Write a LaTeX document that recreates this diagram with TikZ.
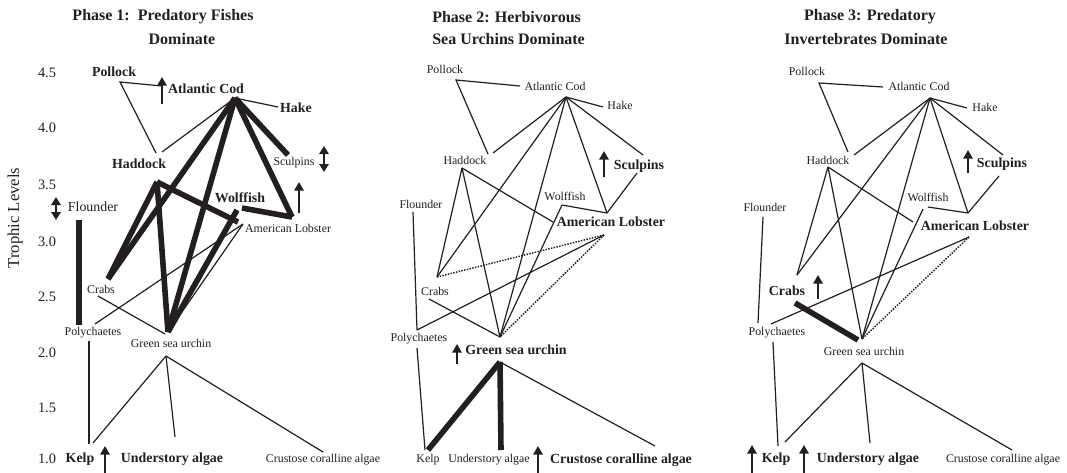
\documentclass[tikz,border=0pt]{standalone}
\usepackage{fontspec}
\setmainfont{Liberation Serif}
\usetikzlibrary{arrows.meta}
\definecolor{ink}{HTML}{231F20}
\tikzset{
  lab/.style={font=\fontsize{8.9}{10}\selectfont, inner sep=0pt, text=ink},
  blab/.style={font=\fontsize{10.4}{12}\selectfont\bfseries, inner sep=0pt, text=ink},
  biglab/.style={font=\fontsize{10.4}{12}\selectfont, inner sep=0pt, text=ink},
  ttl/.style={font=\fontsize{12}{14}\selectfont\bfseries, inner sep=0pt, text=ink},
  axn/.style={font=\fontsize{10.8}{12}\selectfont, inner sep=0pt, text=ink},
  fw/.style={draw=ink, line width=0.9pt},
  tk/.style={draw=ink, line width=4.2pt},
  dt/.style={draw=ink, line width=1.1pt, densely dotted},
  uar/.style={draw=ink, line width=1.9pt, -{Triangle[length=6.5pt,width=7pt]}},
  dar/.style={draw=ink, line width=1.9pt, {Triangle[length=6pt,width=7pt]}-{Triangle[length=6pt,width=7pt]}},
}
\begin{document}
\begin{tikzpicture}[x=0.75pt,y=-0.75pt]
\useasboundingbox (0,0) rectangle (1067,472);
\clip (0,0) rectangle (1067,472);
\fill[white] (0,0) rectangle (1067,472);

% ---------------- axis ----------------
\node[axn] (a45) at (47,73) {4.5};
\node[axn] (a40) at (47,128) {4.0};
\node[axn] (a35) at (47,185) {3.5};
\node[axn] (a30) at (47,242) {3.0};
\node[axn] (a25) at (47,297) {2.5};
\node[axn] (a20) at (47,353) {2.0};
\node[axn] (a15) at (47,408) {1.5};
\node[axn] (a10) at (47,459) {1.0};
\node[font=\fontsize{12.5}{14}\selectfont, text=ink, inner sep=0pt, rotate=90] (tl) at (15,218) {Trophic Levels};

% ================= PANEL 1 =================
\node[ttl] (t1a) at (163,17) {Phase 1:\ \ Predatory Fishes};
\node[ttl] (t1b) at (182,39) {Dominate};

\node[blab] (p1pol) at (114,72) {Pollock};
\node[blab] (p1cod) at (206,89) {Atlantic Cod};
\node[blab] (p1hake) at (296,108) {Hake};
\node[blab] (p1had) at (139,164) {Haddock};
\node[lab] (p1scu) at (294,163) {Sculpins};
\node[blab] (p1wol) at (240,198) {Wolffish};
\node[lab] (p1lob) at (288,228) {American Lobster};
\node[biglab] (p1flo) at (93,207) {Flounder};
\node[lab] (p1crab) at (101,289) {Crabs};
\node[lab] (p1poly) at (93,333) {Polychaetes};
\node[lab] (p1urch) at (171,343) {Green sea urchin};
\node[blab] (p1kelp) at (80,459) {Kelp};
\node[blab] (p1und) at (172,459) {Understory algae};
\node[lab] (p1cru) at (323,460) {Crustose coralline algae};

\coordinate (c1Pol) at (120,82);
\coordinate (c1CodL) at (162,86);
\coordinate (c1HadTL) at (156,153);
\coordinate (c1HadTR) at (162,152);
\coordinate (c1Apex) at (235,98);
\coordinate (c1HakeL) at (278,107);
\coordinate (c1ScT) at (288,155);
\coordinate (c1LobV) at (292,217);
\coordinate (c1Crab) at (108,279);
\coordinate (c1UrT) at (168,332);
\coordinate (c1HadV) at (157,182);
\coordinate (c1LobL) at (238,222);
\coordinate (c1Wolf) at (237,210);
\coordinate (c1WolfR) at (242,208);
\coordinate (c1LobLow) at (243,224);
\coordinate (c1Poly) at (95,324);
\coordinate (c1CrabB) at (98,296);
\coordinate (c1UrT2) at (165,334);
\coordinate (c1PolyB) at (89,341);
\coordinate (c1KelpT) at (89,444);
\coordinate (c1UrB) at (166,356);
\coordinate (c1KelpT2) at (93,443);
\coordinate (c1UndT) at (175,437);
\coordinate (c1CruT) at (323,452);
\coordinate (c1FlT) at (79,220);
\coordinate (c1FlB) at (79,325);

\draw[fw] (c1HadTL) -- (c1Pol) -- (c1CodL);
\draw[fw] (c1Apex) -- (c1HakeL);
\draw[fw] (c1Apex) -- (c1HadTR);
\draw[fw] (c1LobLow) -- (c1Poly);
\draw[fw] (c1LobLow) -- (c1UrT);
\draw[fw] (c1CrabB) -- (c1UrT2);
\draw[fw] (c1PolyB) -- (c1KelpT);
\draw[fw] (c1UrB) -- (c1KelpT2);
\draw[fw] (c1UrB) -- (c1UndT);
\draw[fw] (c1UrB) -- (c1CruT);
\draw[tk] (c1Apex) -- (c1ScT);
\draw[tk] (c1Apex) -- (c1LobV);
\draw[tk] (c1Apex) -- (c1Crab);
\draw[tk] (c1Apex) -- (c1UrT);
\draw[tk] (c1HadV) -- (c1Crab);
\draw[tk] (c1HadV) -- (c1UrT);
\draw[tk] (c1HadV) -- (c1LobL);
\draw[tk] (c1Wolf) -- (c1UrT);
\draw[tk] (c1WolfR) -- (c1LobV);
\draw[tk] (c1FlT) -- (c1FlB);

\coordinate (u1a) at (162,104); \coordinate (u1b) at (162,77);
\draw[uar] (u1a) -- (u1b);
\coordinate (d1a) at (56,197); \coordinate (d1b) at (56,220);
\draw[dar] (d1a) -- (d1b);
\coordinate (d2a) at (324,146); \coordinate (d2b) at (324,172);
\draw[dar] (d2a) -- (d2b);
\coordinate (u2a) at (299,213); \coordinate (u2b) at (299,182);
\draw[uar] (u2a) -- (u2b);
\coordinate (u3a) at (105,480); \coordinate (u3b) at (105,446);
\draw[uar] (u3a) -- (u3b);

% ================= PANEL 2 =================
\node[ttl, anchor=west] (t2a) at (432,17) {Phase 2: Herbivorous};
\node[ttl, anchor=west] (t2b) at (432,39) {Sea Urchins Dominate};

\node[lab] (p2pol) at (445,69) {Pollock};
\node[lab] (p2cod) at (555,86) {Atlantic Cod};
\node[lab] (p2hake) at (620,105) {Hake};
\node[blab] (p2scu) at (639,166) {Sculpins};
\node[lab] (p2had) at (465,160) {Haddock};
\node[lab] (p2wol) at (565,196) {Wolffish};
\node[blab] (p2lob) at (611,222) {American Lobster};
\node[lab] (p2flo) at (421,204) {Flounder};
\node[lab] (p2crab) at (435,291) {Crabs};
\node[lab] (p2poly) at (419,339) {Polychaetes};
\node[blab] (p2urch) at (516,350) {Green sea urchin};
\node[lab] (p2kelp) at (428,460) {Kelp};
\node[lab] (p2und) at (489,460) {Understory algae};
\node[blab] (p2cru) at (621,460) {Crustose coralline algae};

\coordinate (c2Pol) at (456,80);
\coordinate (c2CodL) at (520,86);
\coordinate (c2HadTL) at (488,154);
\coordinate (c2HadTR) at (493,153);
\coordinate (c2Apex) at (566,97);
\coordinate (c2HakeL) at (603,107);
\coordinate (c2ScT) at (643,155);
\coordinate (c2ScB) at (637,173);
\coordinate (c2LobV) at (607,213);
\coordinate (c2HadV) at (462,168);
\coordinate (c2Crab) at (437,277);
\coordinate (c2UrT) at (500,337);
\coordinate (c2LobL) at (553,222);
\coordinate (c2Wolf) at (562,205);
\coordinate (c2LobLow) at (604,235);
\coordinate (c2Poly) at (417,330);
\coordinate (c2FlT) at (413,212);
\coordinate (c2CrabB) at (429,299);
\coordinate (c2PolyB) at (417,348);
\coordinate (c2KelpT) at (425,450);
\coordinate (c2UrB) at (500,362);
\coordinate (c2KelpT2) at (428,450);
\coordinate (c2UndT) at (501,450);
\coordinate (c2CruT) at (655,446);

\draw[fw] (c2HadTL) -- (c2Pol) -- (c2CodL);
\draw[fw] (c2Apex) -- (c2HakeL);
\draw[fw] (c2Apex) -- (c2HadTR);
\draw[fw] (c2Apex) -- (c2ScT);
\draw[fw] (c2Apex) -- (c2LobV);
\draw[fw] (c2Apex) -- (c2Crab);
\draw[fw] (c2Apex) -- (c2UrT);
\draw[fw] (c2ScB) -- (c2LobV);
\draw[fw] (c2Wolf) -- (c2LobV);
\draw[fw] (c2Wolf) -- (c2UrT);
\draw[fw] (c2HadV) -- (c2Crab);
\draw[fw] (c2HadV) -- (c2UrT);
\draw[fw] (c2HadV) -- (c2LobL);
\draw[dt] (c2LobLow) -- (c2Crab);
\draw[dt] (c2LobLow) -- (c2UrT);
\draw[fw] (c2LobLow) -- (c2Poly);
\draw[fw] (c2FlT) -- (c2Poly);
\draw[fw] (c2CrabB) -- (c2UrT);
\draw[fw] (c2PolyB) -- (c2KelpT);
\draw[tk] (c2UrB) -- (c2KelpT2);
\draw[tk] (c2UrB) -- (c2UndT);
\draw[fw] (c2UrB) -- (c2CruT);

\coordinate (u4a) at (604,177); \coordinate (u4b) at (604,151);
\draw[uar] (u4a) -- (u4b);
\coordinate (u5a) at (457,364); \coordinate (u5b) at (457,344);
\draw[uar] (u5a) -- (u5b);
\coordinate (u6a) at (538,480); \coordinate (u6b) at (538,446);
\draw[uar] (u6a) -- (u6b);

% ================= PANEL 3 =================
\node[ttl] (t3a) at (870,17) {Phase 3: Predatory};
\node[ttl] (t3b) at (866,39) {Invertebrates Dominate};

\node[lab] (p3pol) at (807,71) {Pollock};
\node[lab] (p3cod) at (919,86) {Atlantic Cod};
\node[lab] (p3hake) at (985,107) {Hake};
\node[blab] (p3scu) at (1002,164) {Sculpins};
\node[lab] (p3had) at (828,160) {Haddock};
\node[lab] (p3wol) at (928,197) {Wolffish};
\node[blab] (p3lob) at (975,226) {American Lobster};
\node[lab] (p3flo) at (765,207) {Flounder};
\node[blab] (p3crab) at (787,291) {Crabs};
\node[lab] (p3poly) at (777,333) {Polychaetes};
\node[lab] (p3urch) at (864,351) {Green sea urchin};
\node[blab] (p3kelp) at (776,459) {Kelp};
\node[blab] (p3und) at (868,459) {Understory algae};
\node[lab] (p3cru) at (1003,460) {Crustose coralline algae};

\coordinate (c3Pol) at (819,83);
\coordinate (c3CodL) at (883,87);
\coordinate (c3HadTL) at (848,152);
\coordinate (c3HadTR) at (854,155);
\coordinate (c3Apex) at (930,98);
\coordinate (c3HakeL) at (967,108);
\coordinate (c3ScT) at (1003,155);
\coordinate (c3ScB) at (999,176);
\coordinate (c3LobV) at (968,213);
\coordinate (c3HadV) at (828,167);
\coordinate (c3Crab) at (797,275);
\coordinate (c3UrT) at (862,339);
\coordinate (c3LobL) at (913,222);
\coordinate (c3WolfR) at (928,207);
\coordinate (c3Wolf) at (923,209);
\coordinate (c3LobLow) at (969,237);
\coordinate (c3Poly) at (771,324);
\coordinate (c3FlT) at (763,217);
\coordinate (c3FlB) at (758,323);
\coordinate (c3CrabB) at (795,303);
\coordinate (c3CrabE) at (858,340);
\coordinate (c3PolyB) at (773,342);
\coordinate (c3KelpT) at (778,446);
\coordinate (c3UrB) at (862,363);
\coordinate (c3KelpT2) at (785,442);
\coordinate (c3UndT) at (870,443);
\coordinate (c3CruT) at (1012,450);

\draw[fw] (c3HadTL) -- (c3Pol) -- (c3CodL);
\draw[fw] (c3Apex) -- (c3HakeL);
\draw[fw] (c3Apex) -- (c3HadTR);
\draw[fw] (c3Apex) -- (c3ScT);
\draw[fw] (c3Apex) -- (c3LobV);
\draw[fw] (c3Apex) -- (c3Crab);
\draw[fw] (c3Apex) -- (c3UrT);
\draw[fw] (c3ScB) -- (c3LobV);
\draw[fw] (c3WolfR) -- (c3LobV);
\draw[fw] (c3Wolf) -- (c3UrT);
\draw[fw] (c3HadV) -- (c3Crab);
\draw[fw] (c3HadV) -- (c3UrT);
\draw[fw] (c3HadV) -- (c3LobL);
\draw[dt] (c3LobLow) -- (c3UrT);
\draw[fw] (c3LobLow) -- (c3Poly);
\draw[fw] (c3FlT) -- (c3FlB);
\draw[tk] (c3CrabB) -- (c3CrabE);
\draw[fw] (c3PolyB) -- (c3KelpT);
\draw[fw] (c3UrB) -- (c3KelpT2);
\draw[fw] (c3UrB) -- (c3UndT);
\draw[fw] (c3UrB) -- (c3CruT);

\coordinate (u7a) at (968,173); \coordinate (u7b) at (968,150);
\draw[uar] (u7a) -- (u7b);
\coordinate (u8a) at (818,299); \coordinate (u8b) at (818,275);
\draw[uar] (u8a) -- (u8b);
\coordinate (u9a) at (752,480); \coordinate (u9b) at (752,445);
\draw[uar] (u9a) -- (u9b);
\coordinate (u10a) at (804,480); \coordinate (u10b) at (804,445);
\draw[uar] (u10a) -- (u10b);
\end{tikzpicture}
\end{document}
